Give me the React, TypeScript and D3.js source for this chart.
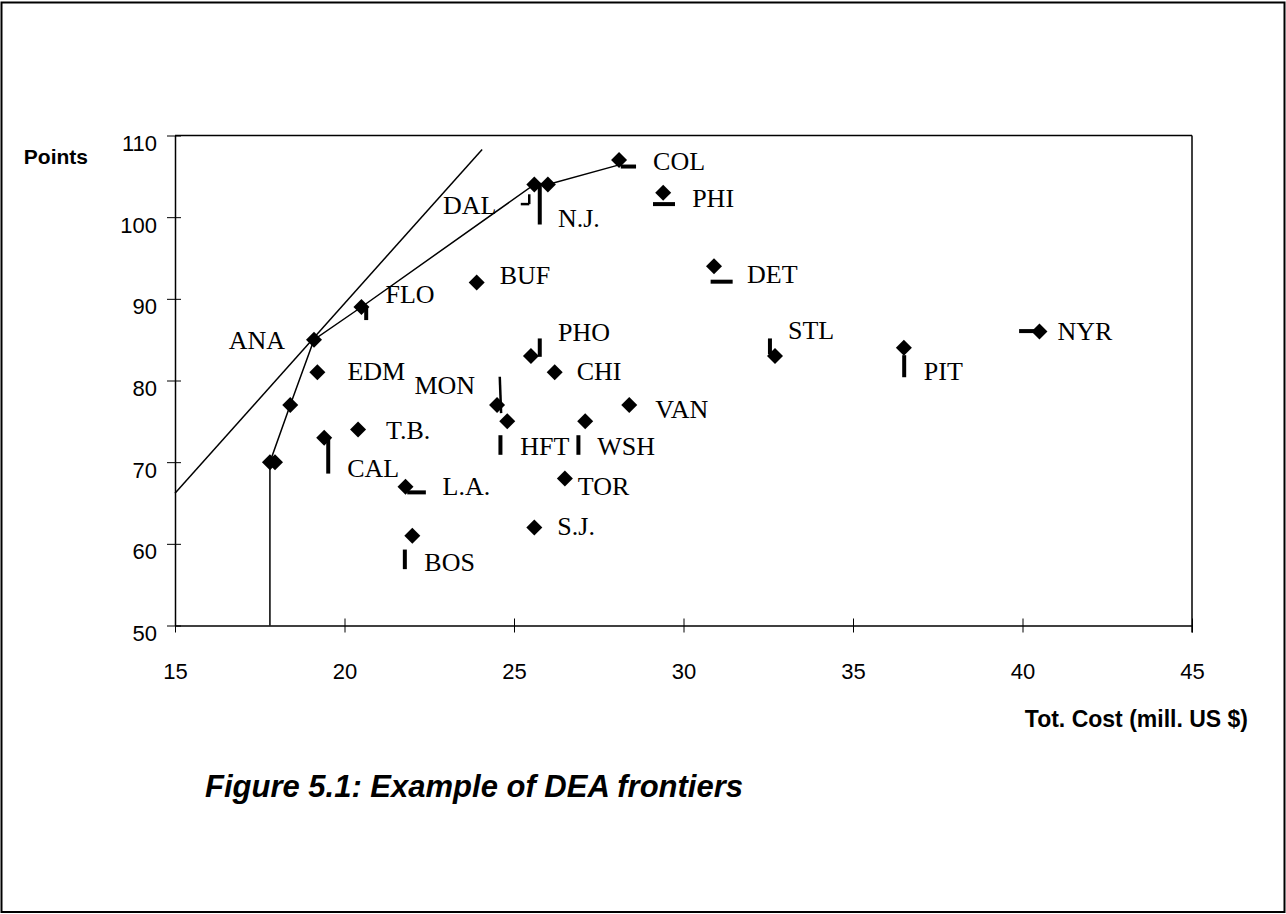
import React, { useRef, useEffect } from 'react';
import * as d3 from 'd3';

// teams (DMUs): total cost vs points
const teams = ['COL', 'PHI', 'DAL', 'N.J.', 'BUF', 'DET', 'FLO', 'ANA', 'PHO', 'STL', 'NYR', 'PIT', 'CHI', 'EDM', 'MON', 'VAN', 'T.B.', 'HFT', 'WSH', 'CAL', 'TOR', 'L.A.', 'S.J.', 'BOS', '', '', ''];
const cost = [28.1, 29.4, 25.6, 26.0, 23.9, 30.9, 20.5, 19.1, 25.5, 32.7, 40.5, 36.5, 26.2, 19.2, 24.5, 28.4, 20.4, 24.8, 27.1, 19.4, 26.5, 21.8, 25.6, 22.0, 18.4, 17.8, 17.95];
const points = [107, 103, 104, 104, 92, 94, 89, 85, 83, 83, 86, 84, 81, 81, 77, 77, 74, 75, 75, 73, 68, 67, 62, 61, 77, 70, 70];

// constant returns frontier (ray) and variable returns frontier
const crsCost = [15, 24.06];
const crsPoints = [66.2, 108.3];
const vrsCost = [17.8, 17.8, 18.4, 19.1, 20.5, 25.6, 26.0, 28.1];
const vrsPoints = [50, 70, 77, 85, 89, 104, 104, 106.4];

// slack / projection marks: [x1, y1, x2, y2]
const slacks = [
  [28.15, 106.2, 28.6, 106.2],
  [29.1, 101.6, 29.75, 101.6],
  [25.2, 101.6, 25.45, 101.6],
  [25.45, 101.6, 25.45, 102.8],
  [25.76, 104.2, 25.76, 99.1],
  [30.8, 92.1, 31.45, 92.1],
  [20.64, 89.0, 20.64, 87.4],
  [25.76, 85.15, 25.76, 82.9],
  [32.55, 85.15, 32.55, 83.2],
  [36.51, 83.1, 36.51, 80.4],
  [39.9, 86.05, 40.35, 86.05],
  [24.58, 80.45, 24.62, 76.0],
  [24.6, 73.3, 24.6, 70.9],
  [26.9, 73.3, 26.9, 70.9],
  [19.52, 73.1, 19.52, 68.6],
  [21.85, 66.3, 22.4, 66.3],
  [21.78, 59.3, 21.78, 56.9],
];
const thinSlacks = [2, 3, 11];

const xTicks = [15, 20, 25, 30, 35, 40, 45];
const yTicks = [50, 60, 70, 80, 90, 100, 110];

// label placement relative to each marker: [dx, dy, anchor]
const labelPos: Record<string, [number, number, string]> = {
  COL: [34, 10, 'start'], PHI: [29, 14, 'start'], DAL: [-38, 29, 'end'], 'N.J.': [10, 42, 'start'],
  BUF: [23, 1, 'start'], DET: [33, 17, 'start'], FLO: [24, -4, 'start'], ANA: [-29, 9, 'end'],
  PHO: [27, -15, 'start'], STL: [13, -17, 'start'], NYR: [18, 8, 'start'], PIT: [20, 32, 'start'],
  CHI: [22, 8, 'start'], EDM: [30, 8, 'start'], MON: [-22, -11, 'end'], VAN: [26, 13, 'start'],
  'T.B.': [28, 9, 'start'], HFT: [13, 34, 'start'], WSH: [12, 34, 'start'], CAL: [23, 39, 'start'],
  TOR: [13, 16, 'start'], 'L.A.': [37, 8, 'start'], 'S.J.': [23, 7, 'start'], BOS: [12, 35, 'start'],
};

const W = 1286;
const H = 914;
const margin = { left: 175, right: 94, top: 135.5, bottom: 288.5 };
const sans = 'Arial, "Liberation Sans", sans-serif';

export default function App() {
  const xAxisEl = useRef<SVGGElement>(null);
  const yAxisEl = useRef<SVGGElement>(null);

  const x = d3.scaleLinear().domain([15, 45]).range([margin.left, W - margin.right]);
  const y = d3.scaleLinear().domain([50, 110]).range([H - margin.bottom, margin.top]);

  useEffect(() => {
    const ax = d3.select(xAxisEl.current as SVGGElement);
    ax.call(d3.axisBottom(x).tickValues(xTicks).tickSize(7).tickSizeOuter(0).tickFormat(d3.format('d')));
    ax.select('.domain').attr('stroke-width', 1.5);
    ax.selectAll('.tick line').attr('y1', -7).attr('stroke-width', 1);
    ax.selectAll('.tick text').attr('y', 53).attr('dy', 0)
      .style('font-family', sans).style('font-size', '22px').attr('fill', '#000');

    const ay = d3.select(yAxisEl.current as SVGGElement);
    ay.call(d3.axisLeft(y).tickValues(yTicks).tickSize(8).tickSizeOuter(0).tickFormat(d3.format('d')));
    ay.select('.domain').attr('stroke-width', 1.5);
    ay.selectAll('.tick line').attr('x1', 6).attr('stroke-width', 1);
    ay.selectAll('.tick text').attr('x', -18).attr('dy', '0.72em').attr('y', -1)
      .style('font-family', sans).style('font-size', '22px').attr('fill', '#000');
  }, []);

  const line = d3.line<[number, number]>().x((d) => x(d[0])).y((d) => y(d[1]));
  const crs = crsCost.map((c, i) => [c, crsPoints[i]] as [number, number]);
  const vrs = vrsCost.map((c, i) => [c, vrsPoints[i]] as [number, number]);
  const diamond = d3.symbol(d3.symbolSquare, 128)();

  return (
    <div style={{ position: 'absolute', left: 0, top: 0 }}>
      <svg width={W} height={H} style={{ display: 'block', background: '#fff' }}>
        {/* page frame */}
        <rect x={1.5} y={2.5} width={1283} height={909.5} fill="none" stroke="#000" strokeWidth={2} />

        {/* plot frame */}
        <line x1={x(15)} x2={x(45)} y1={y(110)} y2={y(110)} stroke="#000" strokeWidth={1.5} />
        <line x1={x(45)} x2={x(45)} y1={y(110)} y2={y(50) + 7} stroke="#000" strokeWidth={1.5} />

        <g ref={xAxisEl} transform={`translate(0, ${y(50)})`} />
        <g ref={yAxisEl} transform={`translate(${x(15)}, 0)`} />

        {/* frontiers */}
        <path d={line(crs) || ''} fill="none" stroke="#000" strokeWidth={1.5} />
        <path d={line(vrs) || ''} fill="none" stroke="#000" strokeWidth={1.5} />

        {/* slacks */}
        {slacks.map((s, i) => (
          <line key={i} x1={x(s[0])} y1={y(s[1])} x2={x(s[2])} y2={y(s[3])}
            stroke="#000" strokeWidth={thinSlacks.includes(i) ? 2.5 : 4} />
        ))}

        {/* teams */}
        {teams.map((t, i) => (
          <path key={i} d={diamond || ''} fill="#000"
            transform={`translate(${x(cost[i])}, ${y(points[i])}) rotate(45)`} />
        ))}
        {teams.map((t, i) => {
          if (!t) return null;
          const p = labelPos[t];
          return (
            <text key={'l' + i} x={x(cost[i]) + p[0]} y={y(points[i]) + p[1]} textAnchor={p[2]}
              style={{ fontFamily: '"Times New Roman", "Liberation Serif", serif', fontSize: 26 }} fill="#000">
              {t}
            </text>
          );
        })}

        {/* axis titles */}
        <text x={88} y={164} textAnchor="end" style={{ fontFamily: sans, fontSize: 21, fontWeight: 'bold' }}>Points</text>
        <text x={1248} y={727} textAnchor="end" style={{ fontFamily: sans, fontSize: 23, fontWeight: 'bold' }}>
          Tot. Cost (mill. US $)
        </text>
        <text x={205} y={797} style={{ fontFamily: sans, fontSize: 31, fontWeight: 'bold', fontStyle: 'italic' }}>
          Figure 5.1: Example of DEA frontiers
        </text>
      </svg>
    </div>
  );
}
